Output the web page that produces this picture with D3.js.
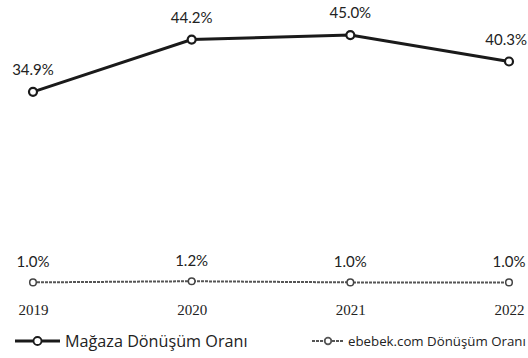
<!DOCTYPE html>
<html>
<head>
<meta charset="utf-8">
<script src="https://cdn.jsdelivr.net/npm/d3@7"></script>
<style>
  html, body { margin: 0; padding: 0; background: #fff; }
  svg { display: block; }
</style>
</head>
<body>
<div id="chart"></div>
<script>
// Conversion rates by year
const years = ["2019", "2020", "2021", "2022"];
const storeRate = [34.9, 44.2, 45.0, 40.3];
const onlineRate = [1.0, 1.2, 1.0, 1.0];
const seriesNames = ["Mağaza Dönüşüm Oranı", "ebebek.com Dönüşüm Oranı"];

const W = 528, H = 358;
const svg = d3.select("#chart").append("svg")
  .attr("width", W).attr("height", H);

const x = d3.scalePoint().domain(years).range([33, 509]);
const y = d3.scaleLinear().domain([0, 50]).range([288, 7]);

const line = d3.line()
  .x((d, i) => x(years[i]))
  .y(d => y(d));

const fmt = d => d.toFixed(1) + "%";
const labelFont = "Lato, 'Open Sans', sans-serif";

// Keep value labels inside the drawing area at the right edge
function placeLabel(sel) {
  sel.each(function () {
    const t = d3.select(this);
    const bb = this.getBBox();
    if (bb.x + bb.width > W - 1) {
      t.attr("text-anchor", "end").attr("x", W - 1);
    }
  });
}

// Online conversion (thin dotted grey line)
svg.append("path")
  .datum(onlineRate)
  .attr("d", line)
  .attr("fill", "none")
  .attr("stroke", "#555")
  .attr("stroke-width", 2)
  .attr("stroke-dasharray", "3,1");

svg.selectAll("circle.online")
  .data(onlineRate).enter().append("circle")
  .attr("class", "online")
  .attr("cx", (d, i) => x(years[i]))
  .attr("cy", d => y(d))
  .attr("r", 3.3)
  .attr("fill", "#fff")
  .attr("stroke", "#444")
  .attr("stroke-width", 1.5);

svg.selectAll("text.onlineLbl")
  .data(onlineRate).enter().append("text")
  .attr("class", "onlineLbl")
  .attr("x", (d, i) => x(years[i]))
  .attr("y", d => y(d) - 15)
  .attr("text-anchor", "middle")
  .attr("font-family", labelFont)
  .attr("font-size", 15)
  .attr("fill", "#222")
  .text(fmt)
  .call(placeLabel);

// Store conversion (bold dark line)
svg.append("path")
  .datum(storeRate)
  .attr("d", line)
  .attr("fill", "none")
  .attr("stroke", "#1a1a1a")
  .attr("stroke-width", 3);

svg.selectAll("circle.store")
  .data(storeRate).enter().append("circle")
  .attr("class", "store")
  .attr("cx", (d, i) => x(years[i]))
  .attr("cy", d => y(d))
  .attr("r", 4)
  .attr("fill", "#fff")
  .attr("stroke", "#1a1a1a")
  .attr("stroke-width", 2.2);

svg.selectAll("text.storeLbl")
  .data(storeRate).enter().append("text")
  .attr("class", "storeLbl")
  .attr("x", (d, i) => x(years[i]))
  .attr("y", d => y(d) - 17)
  .attr("text-anchor", "middle")
  .attr("font-family", labelFont)
  .attr("font-size", 15)
  .attr("fill", "#222")
  .text(fmt)
  .call(placeLabel);

// Year axis labels
const xAxis = d3.axisBottom(x).tickSize(0).tickPadding(0);
const gx = svg.append("g").attr("transform", "translate(0,315)").call(xAxis);
gx.select(".domain").remove();
gx.selectAll("text")
  .attr("font-family", "'Liberation Serif', 'DejaVu Serif', serif")
  .attr("font-size", 15)
  .attr("fill", "#222")
  .attr("dy", 0);

// Legend
const legend = [
  { name: seriesNames[0], x0: 15, x1: 60, stroke: "#1a1a1a", w: 3, dash: null, r: 4, tx: 65, fs: 16.2 },
  { name: seriesNames[1], x0: 312, x1: 344, stroke: "#555", w: 2, dash: "3,1", r: 3.3, tx: 348, fs: 13.8 }
];
const lg = svg.selectAll("g.legend").data(legend).enter().append("g").attr("class", "legend");
lg.append("line")
  .attr("x1", d => d.x0).attr("x2", d => d.x1)
  .attr("y1", 341).attr("y2", 341)
  .attr("stroke", d => d.stroke)
  .attr("stroke-width", d => d.w)
  .attr("stroke-dasharray", d => d.dash);
lg.append("circle")
  .attr("cx", d => (d.x0 + d.x1) / 2).attr("cy", 341)
  .attr("r", d => d.r)
  .attr("fill", "#fff")
  .attr("stroke", d => d.stroke)
  .attr("stroke-width", 1.8);
lg.append("text")
  .attr("x", d => d.tx).attr("y", 341)
  .attr("dy", "0.35em")
  .attr("font-family", "'Open Sans', sans-serif")
  .attr("font-size", d => d.fs)
  .attr("fill", "#222")
  .text(d => d.name)
  .each(function (d) {
    // shrink a legend entry that would run past the right edge
    const bb = this.getBBox();
    if (bb.x + bb.width > W - 2) {
      d3.select(this).attr("font-size", d.fs * (W - 2 - bb.x) / bb.width);
    }
  });
</script>
</body>
</html>
